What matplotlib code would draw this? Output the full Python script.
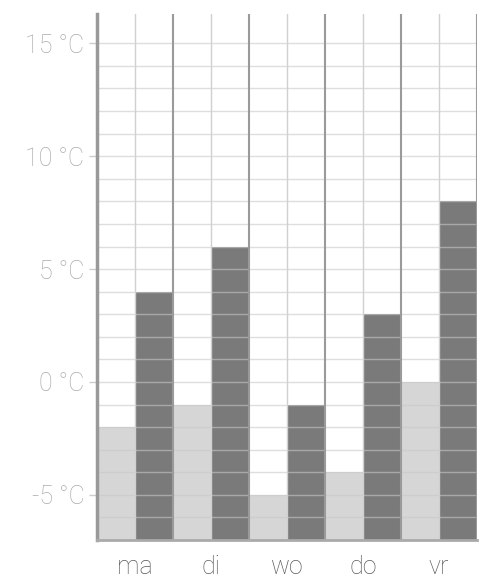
import numpy as np
import matplotlib as mpl
mpl.use('Agg')
import matplotlib.pyplot as plt

plt.rcParams['font.family'] = ['Roboto', 'DejaVu Sans']

days = ['ma', 'di', 'wo', 'do', 'vr']
t_min = [-2, -1, -5, -4, 0]
t_max = [4, 6, -1, 3, 8]
y_ticks = [-5, 0, 5, 10, 15]
y_labels = ['-5 °C', '0 °C', '5 °C', '10 °C', '15 °C']

ymin, ymax = -7, 16.3

fig = plt.figure(figsize=(4.86, 5.84), dpi=100)
ax = fig.add_axes([97/486, 44/584, 380/486, 526/584])

x = np.arange(len(days))
ax.bar(x + 0.25, np.array(t_min) - ymin, bottom=ymin, width=0.5,
       color='#d6d6d6', zorder=1)
ax.bar(x + 0.75, np.array(t_max) - ymin, bottom=ymin, width=0.5,
       color='#7a7a7a', zorder=1)

# grid on top of the bars
for v in range(-6, 16):
    ax.axhline(v, color='#c8c8c8', lw=1, alpha=0.6, zorder=2)
for i in range(len(days) + 1):
    ax.axvline(i, color='#9a9a9a', lw=1.5, zorder=3)
for i in range(len(days)):
    ax.axvline(i + 0.5, color='#d0d0d0', lw=1, zorder=3)

ax.set_xlim(0, len(days))
ax.set_ylim(ymin, ymax)

ax.set_xticks(x + 0.5)
ax.set_xticklabels(days, fontsize=18, color='#5a5a5a', fontweight='light')
ax.tick_params(axis='x', length=0, pad=11)

ax.set_yticks(y_ticks)
ax.set_yticklabels(y_labels, fontsize=18, color='#aaaaaa', fontweight='light')
ax.tick_params(axis='y', length=6, width=1, color='#cccccc', pad=3)

ax.spines['top'].set_visible(False)
ax.spines['right'].set_visible(False)
ax.spines['left'].set_color('#999999')
ax.spines['left'].set_linewidth(2.5)
ax.spines['left'].set_zorder(4)
ax.spines['bottom'].set_color('#aaaaaa')
ax.spines['bottom'].set_linewidth(2)
ax.spines['bottom'].set_zorder(4)

plt.savefig('out.png', dpi=100)
